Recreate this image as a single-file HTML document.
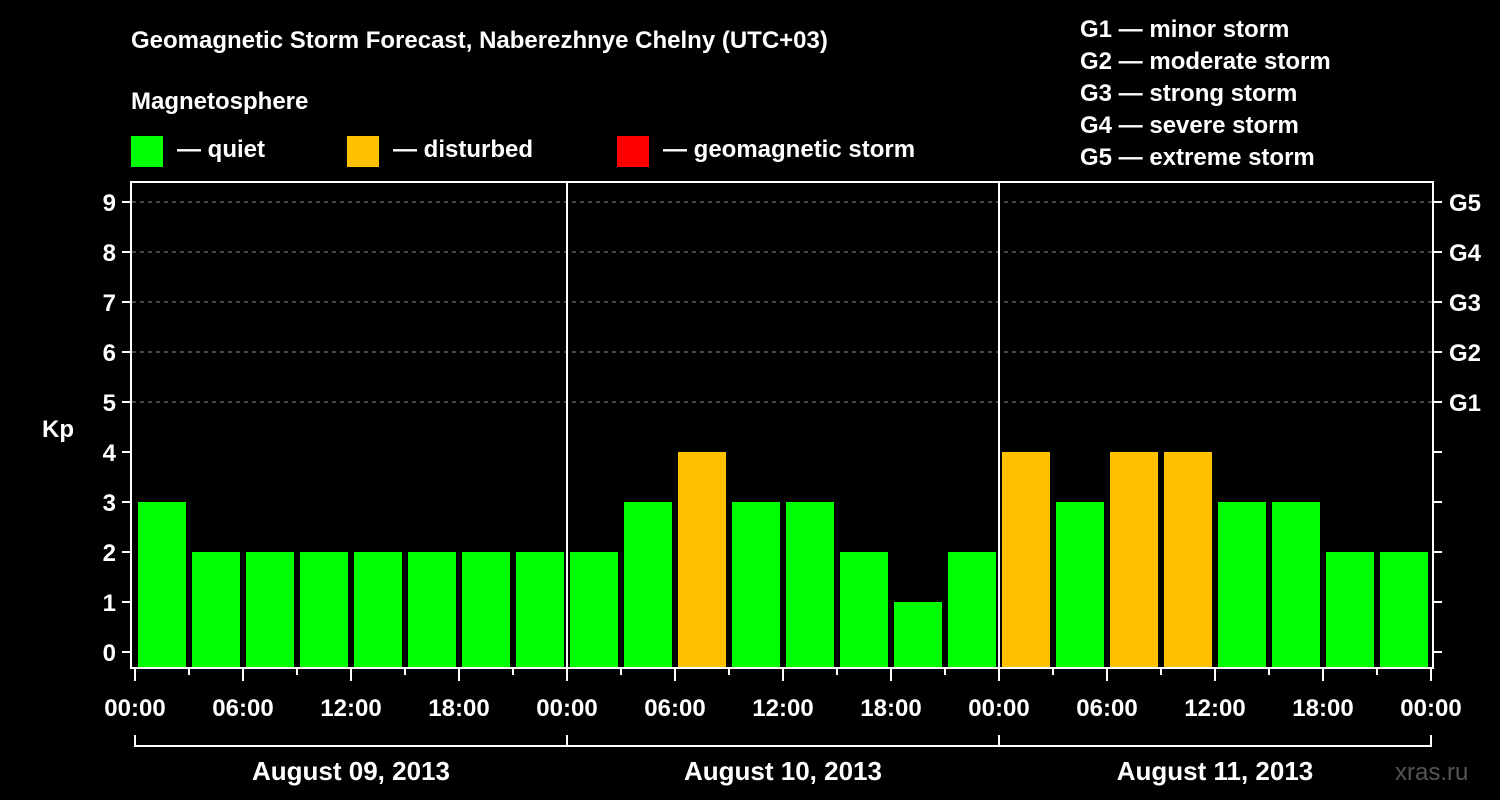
<!DOCTYPE html>
<html><head><meta charset="utf-8"><style>
html,body{margin:0;padding:0;background:#000;}
svg{display:block;font-family:"Liberation Sans",Arial,sans-serif;font-weight:bold;}
</style></head><body>
<svg id="chart" width="1500" height="800" viewBox="0 0 1500 800">
<rect x="0" y="0" width="1500" height="800" fill="#000"/>
<text x="131" y="48" fill="#fff" font-size="24">Geomagnetic Storm Forecast, Naberezhnye Chelny (UTC+03)</text>
<text x="131" y="109" fill="#fff" font-size="24">Magnetosphere</text>
<g><rect x="131" y="136" width="32" height="31" fill="#00ff00"/><text x="177" y="157" fill="#fff" font-size="24">— quiet</text></g>
<g><rect x="347" y="136" width="32" height="31" fill="#ffc000"/><text x="393" y="157" fill="#fff" font-size="24">— disturbed</text></g>
<g><rect x="617" y="136" width="32" height="31" fill="#ff0000"/><text x="663" y="157" fill="#fff" font-size="24">— geomagnetic storm</text></g>
<g fill="#fff" font-size="24">
<text x="1080" y="37">G1 — minor storm</text>
<text x="1080" y="69">G2 — moderate storm</text>
<text x="1080" y="101">G3 — strong storm</text>
<text x="1080" y="133">G4 — severe storm</text>
<text x="1080" y="165">G5 — extreme storm</text>
</g>
<text x="42" y="437" fill="#fff" font-size="24">Kp</text>
<text x="1395" y="780" fill="#555" font-size="24" font-weight="normal">xras.ru</text>
<g id="grid"></g>
<g id="bars"></g>
<rect x="131" y="182" width="1302" height="486" fill="none" stroke="#fff" stroke-width="2"/>
<g id="axes"></g>
</svg>
<script>
const days = ["August 09, 2013","August 10, 2013","August 11, 2013"];
const kpValues = [3,2,2,2,2,2,2,2, 2,3,4,3,3,2,1,2, 4,3,4,4,3,3,2,2];
const yTicks = [0,1,2,3,4,5,6,7,8,9];
const gLabels = ["G1","G2","G3","G4","G5"];
const xTickLabels = ["00:00","06:00","12:00","18:00"];

const NS="http://www.w3.org/2000/svg";
const x0=135, dayW=432, slotW=54;
const xs = h => x0 + h/24*dayW;
const ys = k => 652 - 50*k;
function mk(tag, attrs, parent){const e=document.createElementNS(NS,tag);for(const k in attrs)e.setAttribute(k,attrs[k]);parent.appendChild(e);return e;}
const grid=document.getElementById('grid'), bars=document.getElementById('bars'), axes=document.getElementById('axes');

yTicks.forEach(k=>{
  const y=ys(k);
  const t=mk('line',{x1:122,x2:131,y1:y,y2:y,stroke:'#fff','stroke-width':2},axes);
  
  
  const l=mk('text',{x:116,y:y+9,fill:'#fff','font-size':24,'text-anchor':'end'},axes);
  l.textContent=k;
  
  
  const r=mk('line',{x1:1433,x2:1442,y1:y,y2:y,stroke:'#fff','stroke-width':2},axes);
  
  
  if(k>=5){
    const g=mk('line',{x1:132,x2:1432,y1:y,y2:y,stroke:'#888','stroke-width':1,'stroke-dasharray':'4,4'},grid);
    
    
    const gl=mk('text',{x:1449,y:y+9,fill:'#fff','font-size':24},axes);
    gl.textContent=gLabels[k-5];
    
    
  }
});

kpValues.forEach((v,i)=>{
  const x=xs(i*3)+3;
  const col = v>=5?'#ff0000':(v>=4?'#ffc000':'#00ff00');
  const b=mk('rect',{x:x,y:ys(v),width:slotW-6,height:667-ys(v),fill:col},bars);
  
  
});

for(let d=0; d<=days.length; d++){
  const xd=xs(d*24);
  if(d>0 && d<days.length){
    const s=mk('line',{x1:xd,x2:xd,y1:182,y2:668,stroke:'#fff','stroke-width':2},axes);
    
    
  }
}
for(let h=0; h<=24*days.length; h+=3){
  const x=xs(h);
  const major = h%6===0;
  const t=mk('line',{x1:x,x2:x,y1:668,y2:major?681:675,stroke:'#fff','stroke-width':2},axes);
  
  
  if(major){
    const l=mk('text',{x:x,y:716,fill:'#fff','font-size':24,'text-anchor':'middle'},axes);
    l.textContent=xTickLabels[(h%24)/6];
    
    
  }
}
const br=mk('path',{d:'',fill:'none',stroke:'#fff','stroke-width':2},axes);
let d='M'+xs(0)+' 735 V746 H'+xs(24*days.length)+' V735';
for(let i=1;i<days.length;i++){d+=' M'+xs(24*i)+' 735 V746';}
br.setAttribute('d',d);


days.forEach((dl,i)=>{
  const l=mk('text',{x:xs(24*i+12),y:780,fill:'#fff','font-size':26,'text-anchor':'middle'},axes);
  l.textContent=dl;
  
  
});
</script>
</body></html>
